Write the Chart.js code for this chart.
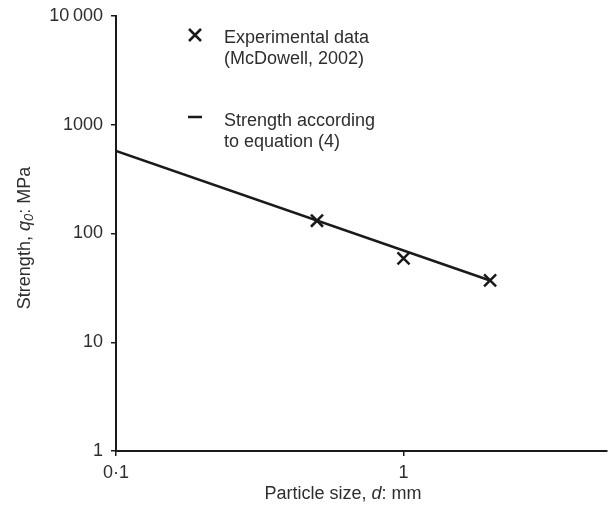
<!DOCTYPE html>
<html>
<head>
<meta charset="utf-8">
<script src="https://cdn.jsdelivr.net/npm/chart.js@4/dist/chart.umd.min.js"></script>
<style>
  html, body { margin: 0; padding: 0; background: #fff; }
  #wrap { width: 609px; height: 508px; }
</style>
</head>
<body>
<div id="wrap"><canvas id="chart" width="609" height="508"></canvas></div>
<script>
// measured crushing strength vs particle size
const sizes = [0.5, 1, 2];
const strengths = [131, 59, 37];

// fitted strength line (equation 4), end points
const fitSizes = [0.1, 2];
const fitStrengths = [575, 37];

const xTicks = [0.1, 1];
const xTickLabels = ["0\u00b71", "1"];
const yTicks = [1, 10, 100, 1000, 10000];
const yTickLabels = ["1", "10", "100", "1000", "10\u2009000"];

const legendExp = ["Experimental data", "(McDowell, 2002)"];
const legendFit = ["Strength according", "to equation (4)"];

const ink = "#1a1a1a";
const textColor = "#2e2e2e";
const fontFamily = "'Liberation Sans', Arial, sans-serif";

// draws a run of [text, style] pieces; style: "n" normal, "i" italic, "s" italic subscript
function drawRich(ctx, parts, x, y, size) {
  let cx = x;
  parts.forEach(([text, style]) => {
    const fs = style === "s" ? Math.round(size * 0.7) : size;
    ctx.font = `${style === "n" ? "" : "italic "}${fs}px ${fontFamily}`;
    ctx.fillText(text, cx, style === "s" ? y + size * 0.25 : y);
    cx += ctx.measureText(text).width;
  });
  return cx - x;
}

function richWidth(ctx, parts, size) {
  let w = 0;
  parts.forEach(([text, style]) => {
    const fs = style === "s" ? Math.round(size * 0.7) : size;
    ctx.font = `${style === "n" ? "" : "italic "}${fs}px ${fontFamily}`;
    w += ctx.measureText(text).width;
  });
  return w;
}

const annotations = {
  id: "annotations",
  afterDraw(chart) {
    const ctx = chart.ctx;
    ctx.save();
    ctx.fillStyle = textColor;
    ctx.textBaseline = "middle";
    ctx.textAlign = "left";

    // x axis title
    const xTitle = [["Particle size, ", "n"], ["d", "i"], [": mm", "n"]];
    const xw = richWidth(ctx, xTitle, 18);
    drawRich(ctx, xTitle, 343 - xw / 2, 494, 18);

    // y axis title, rotated
    const yTitle = [["Strength, ", "n"], ["q", "i"], ["0", "s"], [": MPa", "n"]];
    const yw = richWidth(ctx, yTitle, 18);
    ctx.save();
    ctx.translate(25, 238);
    ctx.rotate(-Math.PI / 2);
    drawRich(ctx, yTitle, -yw / 2, 0, 18);
    ctx.restore();

    // legend
    ctx.font = `18px ${fontFamily}`;
    legendExp.forEach((line, i) => ctx.fillText(line, 224, 38 + i * 21));
    legendFit.forEach((line, i) => ctx.fillText(line, 224, 121 + i * 21));

    ctx.strokeStyle = ink;
    ctx.lineWidth = 2.5;
    ctx.beginPath();
    ctx.moveTo(189, 29); ctx.lineTo(201, 41);
    ctx.moveTo(201, 29); ctx.lineTo(189, 41);
    ctx.moveTo(188, 117); ctx.lineTo(202, 117);
    ctx.stroke();
    ctx.restore();
  }
};

new Chart(document.getElementById("chart"), {
  type: "scatter",
  data: {
    datasets: [
      {
        label: "Strength according to equation (4)",
        data: fitSizes.map((x, i) => ({ x, y: fitStrengths[i] })),
        showLine: true,
        borderColor: ink,
        borderWidth: 2.5,
        pointRadius: 0,
        fill: false
      },
      {
        label: "Experimental data (McDowell, 2002)",
        data: sizes.map((x, i) => ({ x, y: strengths[i] })),
        pointStyle: "crossRot",
        pointRadius: 8.5,
        borderColor: ink,
        borderWidth: 2.5,
        backgroundColor: ink
      }
    ]
  },
  options: {
    responsive: false,
    devicePixelRatio: 1,
    animation: false,
    layout: { autoPadding: false, padding: { top: 16, right: 2, left: 0, bottom: 0 } },
    plugins: {
      legend: { display: false },
      tooltip: { enabled: false }
    },
    scales: {
      x: {
        type: "logarithmic",
        min: 0.1,
        max: 5.1,
        afterBuildTicks: (scale) => {
          scale.ticks = xTicks.map((v) => ({ value: v }));
        },
        afterFit: (scale) => {
          scale.height = 57;
          scale.paddingLeft = 0;
          scale.paddingRight = 0;
        },
        ticks: {
          autoSkip: false,
          maxRotation: 0,
          padding: 6,
          color: textColor,
          font: { family: fontFamily, size: 18 },
          callback: (value) => xTickLabels[xTicks.indexOf(value)] ?? ""
        },
        grid: { drawOnChartArea: false, tickLength: 5, color: ink, lineWidth: 1.5 },
        border: { color: ink, width: 2 }
      },
      y: {
        type: "logarithmic",
        min: 1,
        max: 10000,
        afterBuildTicks: (scale) => {
          scale.ticks = yTicks.map((v) => ({ value: v }));
        },
        afterFit: (scale) => {
          scale.width = 116;
          scale.paddingTop = 0;
          scale.paddingBottom = 0;
        },
        ticks: {
          autoSkip: false,
          padding: 8,
          color: textColor,
          font: { family: fontFamily, size: 18 },
          callback: (value) => yTickLabels[yTicks.indexOf(value)] ?? ""
        },
        grid: { drawOnChartArea: false, tickLength: 5, color: ink, lineWidth: 1.5 },
        border: { color: ink, width: 2 }
      }
    }
  },
  plugins: [annotations]
});
</script>
</body>
</html>
